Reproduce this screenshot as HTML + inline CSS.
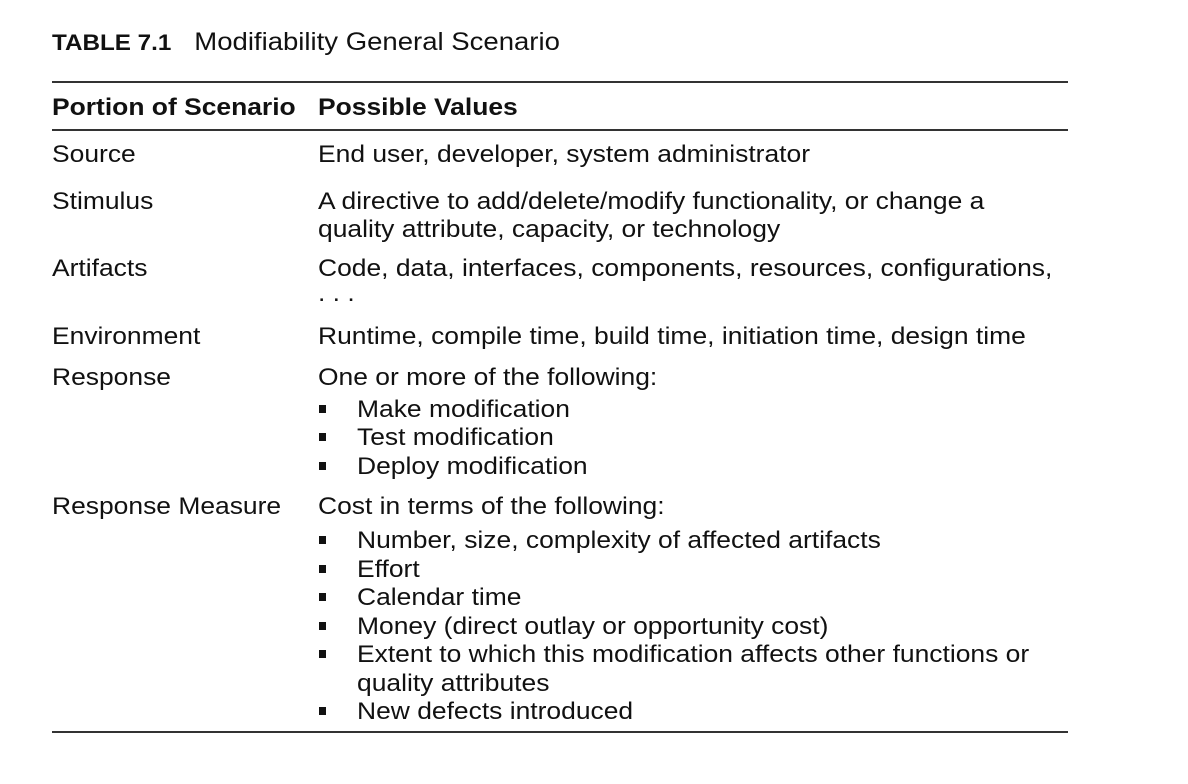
<!DOCTYPE html>
<html><head><meta charset="utf-8"><style>
body{margin:0;width:1188px;height:784px;background:#fff;position:relative;overflow:hidden;font-family:"Liberation Sans",Arial,sans-serif;color:#111}
.t{position:absolute;font-size:24px;line-height:28px;white-space:nowrap;transform-origin:0 50%}
.b{font-weight:bold}
.r{position:absolute;left:52px;width:1016px;height:2px;background:#333}
.sq{position:absolute;left:319px;width:7px;height:8px;background:#111}
</style></head><body>
<div class="t" style="left:52px;top:28px;font-size:25px"><span class="b" style="font-size:22px">TABLE 7.1</span>&nbsp;&nbsp; Modifiability General Scenario</div>
<div class="r" style="top:81px"></div>
<div class="t b" style="left:52px;top:94px">Portion of Scenario</div>
<div class="t b" style="left:318px;top:94px">Possible Values</div>
<div class="r" style="top:129px"></div>

<div class="t" style="left:52px;top:141px">Source</div>
<div class="t" id="ref" style="left:318px;top:141px">End user, developer, system administrator</div>
<div class="t" style="left:52px;top:188px">Stimulus</div>
<div class="t" style="left:318px;top:188px">A directive to add/delete/modify functionality, or change a</div>
<div class="t" style="left:318px;top:216px">quality attribute, capacity, or technology</div>
<div class="t" style="left:52px;top:255px">Artifacts</div>
<div class="t" style="left:318px;top:255px">Code, data, interfaces, components, resources, configurations,</div>
<div class="t" style="left:318px;top:280px">. . .</div>
<div class="t" style="left:52px;top:323px">Environment</div>
<div class="t" style="left:318px;top:323px">Runtime, compile time, build time, initiation time, design time</div>
<div class="t" style="left:52px;top:364px">Response</div>
<div class="t" style="left:318px;top:364px">One or more of the following:</div>
<div class="sq" style="top:405px"></div><div class="t" style="left:357px;top:396px">Make modification</div>
<div class="sq" style="top:433px"></div><div class="t" style="left:357px;top:424px">Test modification</div>
<div class="sq" style="top:462px"></div><div class="t" style="left:357px;top:453px">Deploy modification</div>
<div class="t" style="left:52px;top:493px">Response Measure</div>
<div class="t" style="left:318px;top:493px">Cost in terms of the following:</div>
<div class="sq" style="top:536px"></div><div class="t" style="left:357px;top:527px">Number, size, complexity of affected artifacts</div>
<div class="sq" style="top:565px"></div><div class="t" style="left:357px;top:556px">Effort</div>
<div class="sq" style="top:593px"></div><div class="t" style="left:357px;top:584px">Calendar time</div>
<div class="sq" style="top:622px"></div><div class="t" style="left:357px;top:613px">Money (direct outlay or opportunity cost)</div>
<div class="sq" style="top:650px"></div><div class="t" style="left:357px;top:641px">Extent to which this modification affects other functions or</div>
<div class="t" style="left:357px;top:670px">quality attributes</div>
<div class="sq" style="top:707px"></div><div class="t" style="left:357px;top:698px">New defects introduced</div>
<div class="r" style="top:731px"></div>
<script>
var w=document.getElementById('ref').getBoundingClientRect().width;
var k=492/w;
document.querySelectorAll('.t').forEach(function(e){e.style.transform='scaleX('+k+')';});
</script>
</body></html>
